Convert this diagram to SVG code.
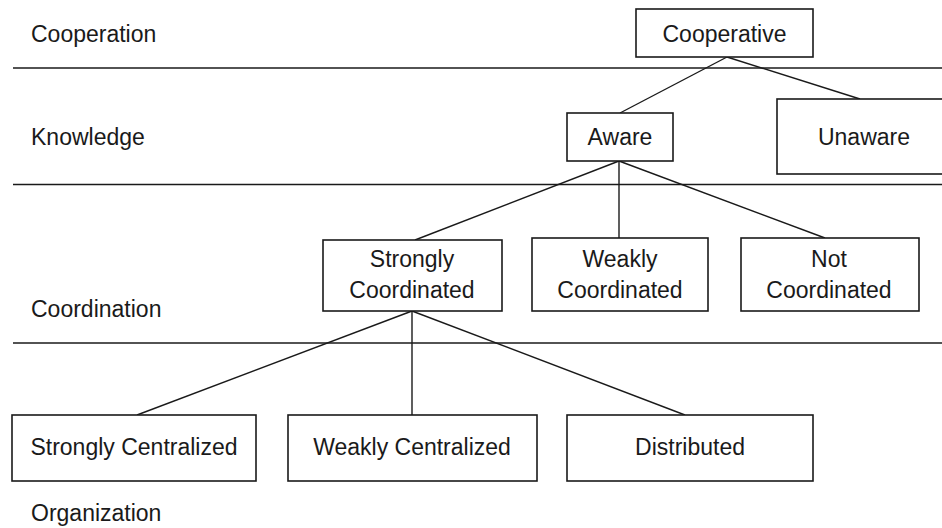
<svg xmlns="http://www.w3.org/2000/svg" width="942" height="528" viewBox="0 0 942 528">
<style>
  text { font-family: "Liberation Sans", Arial, sans-serif; font-size: 23px; fill: #1a1a1a; }
  .c { text-anchor: middle; }
  rect { fill: #fff; stroke: #1a1a1a; stroke-width: 1.6; }
  line { stroke: #1a1a1a; stroke-width: 1.4; }
</style>
<rect x="0" y="0" width="942" height="528" style="stroke:none;fill:#fff"/>
<g id="layers">
  <line x1="13" y1="68" x2="942" y2="68"/>
  <line x1="13" y1="184.5" x2="942" y2="184.5"/>
  <line x1="13" y1="343" x2="942" y2="343"/>
  <text x="31" y="42">Cooperation</text>
  <text x="31" y="145">Knowledge</text>
  <text x="31" y="317">Coordination</text>
  <text x="31" y="521">Organization</text>
</g>
<g id="connectors">
  <line x1="727" y1="57" x2="620" y2="113"/>
  <line x1="727" y1="57" x2="860" y2="99"/>
  <line x1="619" y1="161" x2="415" y2="240"/>
  <line x1="619" y1="161" x2="619" y2="238"/>
  <line x1="619" y1="161" x2="825" y2="238"/>
  <line x1="412" y1="311" x2="137" y2="415"/>
  <line x1="412" y1="311" x2="412" y2="415"/>
  <line x1="412" y1="311" x2="685" y2="415"/>
</g>
<g id="cooperative">
  <rect x="636" y="9" width="177" height="48"/>
  <text class="c" x="724.5" y="42">Cooperative</text>
</g>
<g id="aware">
  <rect x="567" y="113" width="106" height="48"/>
  <text class="c" x="620" y="145">Aware</text>
</g>
<g id="unaware">
  <rect x="777" y="99" width="180" height="75"/>
  <text class="c" x="864" y="145">Unaware</text>
</g>
<g id="strongly-coordinated">
  <rect x="323" y="240" width="179" height="71"/>
  <text class="c" x="412" y="267">Strongly</text>
  <text class="c" x="412" y="298">Coordinated</text>
</g>
<g id="weakly-coordinated">
  <rect x="532" y="238" width="176" height="73"/>
  <text class="c" x="620" y="267">Weakly</text>
  <text class="c" x="620" y="298">Coordinated</text>
</g>
<g id="not-coordinated">
  <rect x="741" y="238" width="178" height="73"/>
  <text class="c" x="829" y="267">Not</text>
  <text class="c" x="829" y="298">Coordinated</text>
</g>
<g id="strongly-centralized">
  <rect x="12" y="415" width="244" height="66"/>
  <text class="c" x="134" y="455">Strongly Centralized</text>
</g>
<g id="weakly-centralized">
  <rect x="288" y="415" width="249" height="66"/>
  <text class="c" x="412" y="455">Weakly Centralized</text>
</g>
<g id="distributed">
  <rect x="567" y="415" width="246" height="66"/>
  <text class="c" x="690" y="455">Distributed</text>
</g>
</svg>
